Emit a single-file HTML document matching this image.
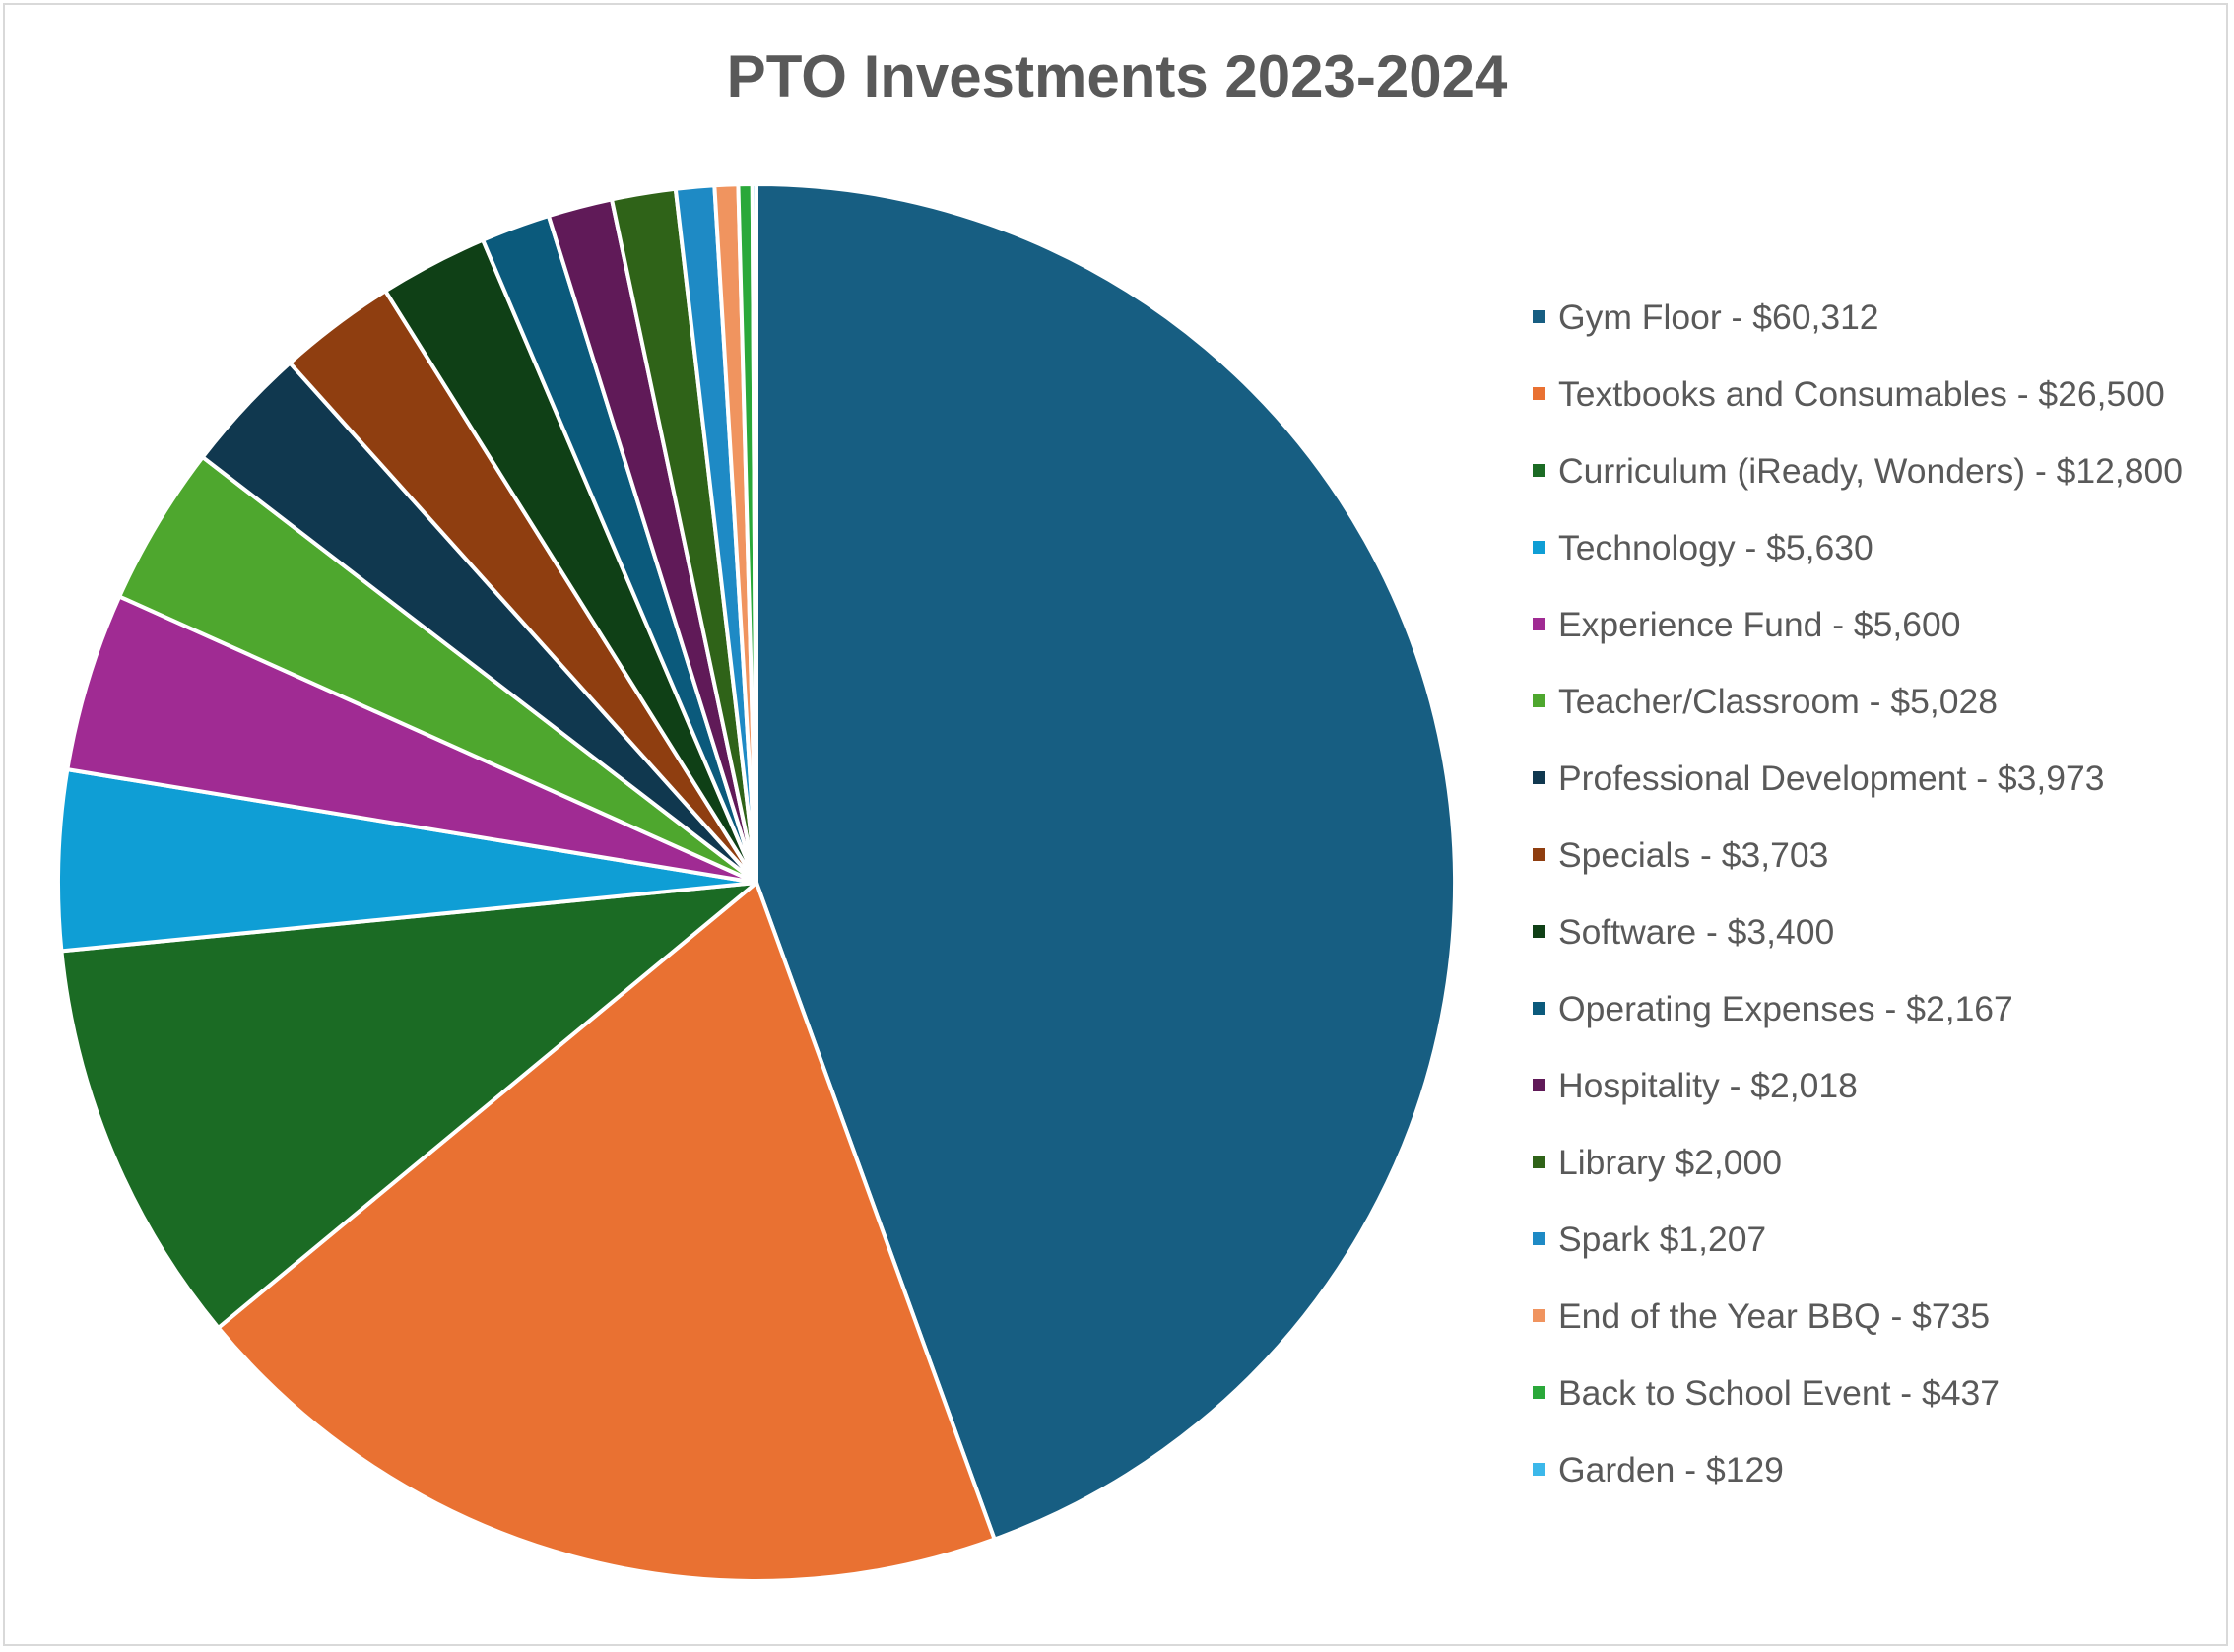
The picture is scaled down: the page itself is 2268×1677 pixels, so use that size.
<!DOCTYPE html>
<html><head><meta charset="utf-8">
<style>
html,body{margin:0;padding:0;background:#fff;}
body{width:2268px;height:1677px;position:relative;overflow:hidden;font-family:"Liberation Sans",sans-serif;}
.frame{position:absolute;left:3px;top:3px;width:2259px;height:1668px;border:2px solid #d9d9d9;box-sizing:border-box;}
.title{position:absolute;left:0;width:2268px;top:43px;text-align:center;font-size:60px;font-weight:bold;color:#595959;}
.leg{position:absolute;left:1556px;font-size:35.5px;color:#595959;white-space:nowrap;}
.leg span{display:inline-block;width:13px;height:13px;margin-right:13px;vertical-align:middle;position:relative;top:-3px;}
</style></head><body>
<div class="frame"></div>
<div class="title">PTO Investments 2023-2024</div>
<svg id="pie" width="2268" height="1677" style="position:absolute;left:0;top:0"></svg>
<div id="legend"></div>
<script>
var d=[["Gym Floor - $60,312",60312,"#175e82"],["Textbooks and Consumables - $26,500",26500,"#e97132"],["Curriculum (iReady, Wonders) - $12,800",12800,"#1b6b24"],["Technology - $5,630",5630,"#0f9ed5"],["Experience Fund - $5,600",5600,"#a02b93"],["Teacher/Classroom - $5,028",5028,"#4ea72e"],["Professional Development - $3,973",3973,"#10384f"],["Specials - $3,703",3703,"#8f3e10"],["Software - $3,400",3400,"#0f4016"],["Operating Expenses - $2,167",2167,"#0b5a7c"],["Hospitality - $2,018",2018,"#601a58"],["Library $2,000",2000,"#2f6318"],["Spark $1,207",1207,"#1e8ac5"],["End of the Year BBQ - $735",735,"#f0945f"],["Back to School Event - $437",437,"#2aa83a"],["Garden - $129",129,"#3cb8ea"]];
var tot=0;d.forEach(function(x){tot+=x[1];});
var cx=768,cy=896,r=709,a=0,s="",lg="";
d.forEach(function(x,i){
 var a2=a+x[1]/tot*2*Math.PI;
 var x1=cx+r*Math.sin(a),y1=cy-r*Math.cos(a),x2=cx+r*Math.sin(a2),y2=cy-r*Math.cos(a2);
 s+='<path d="M'+cx+','+cy+' L'+x1+','+y1+' A'+r+','+r+' 0 '+((a2-a)>Math.PI?1:0)+' 1 '+x2+','+y2+' Z" fill="'+x[2]+'" stroke="#fff" stroke-width="4" stroke-linejoin="round"/>';
 a=a2;
 lg+='<div class="leg" style="top:'+(302+i*78)+'px"><span style="background:'+x[2]+'"></span>'+x[0]+'</div>';
});
document.getElementById("pie").innerHTML=s;
document.getElementById("legend").innerHTML=lg;
</script>
</body></html>
